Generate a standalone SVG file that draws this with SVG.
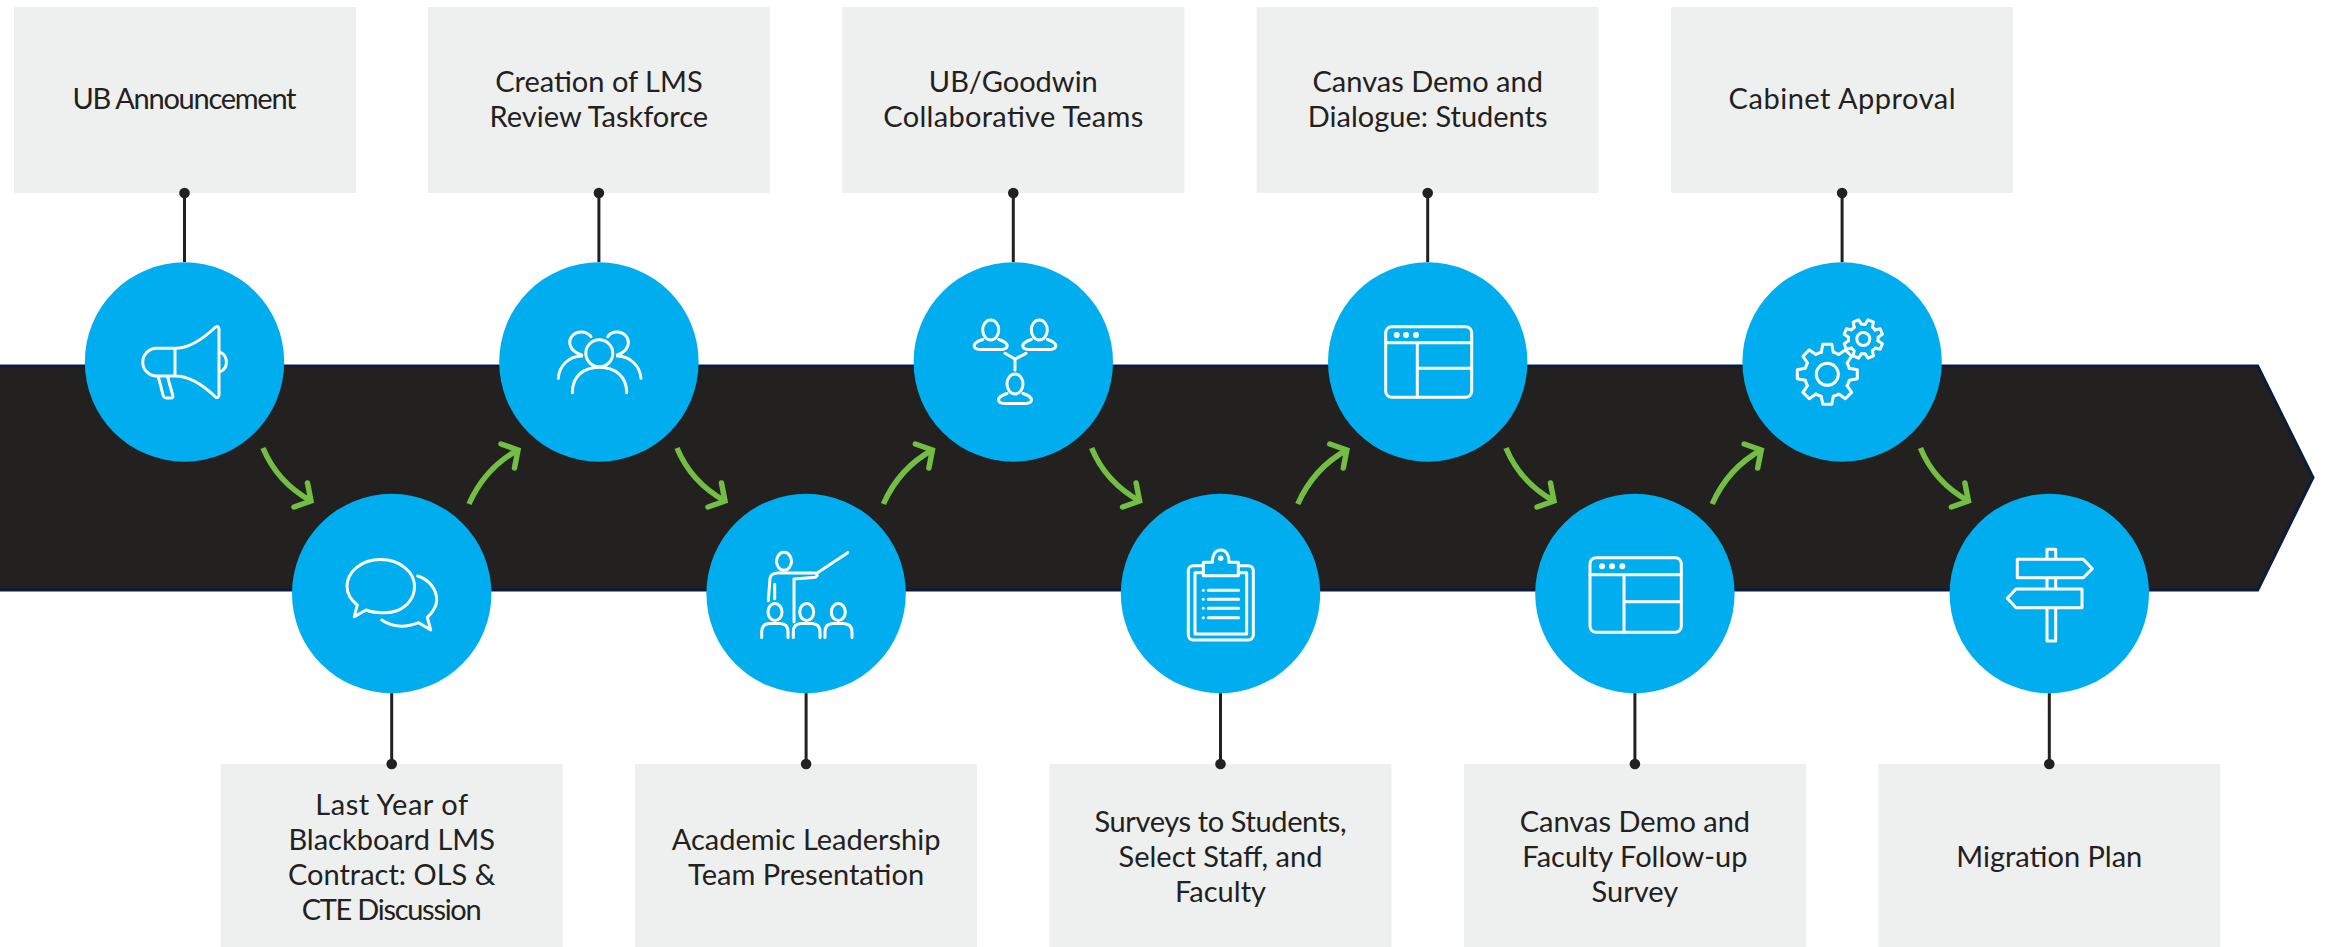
<svg xmlns="http://www.w3.org/2000/svg" xmlns:xlink="http://www.w3.org/1999/xlink" width="2325" height="947" viewBox="0 0 2325 947">
<style>
.box{fill:#eeefef}
.circ{fill:#00adef}
.ic{fill:none;stroke:#fff;stroke-width:3;stroke-linecap:round;stroke-linejoin:round}
.dotw{fill:#fff}
.conn{stroke:#232120;stroke-width:3;fill:none}
.dot{fill:#232120}
.arw{fill:none;stroke:#72bf44;stroke-width:5.5;stroke-linecap:round}
.t{font-family:"Lato","Liberation Sans",sans-serif;font-size:29px;fill:#232120;text-anchor:middle}
</style>
<defs>
<g id="adown"><path class="arw" d="M0 0Q14 34 48 53" style="stroke-linecap:butt"/><path class="arw" d="M44.500 35L48 53L31 59"/></g>
<g id="aup"><path class="arw" d="M0 0Q16 -36 49 -54" style="stroke-linecap:butt"/><path class="arw" d="M32 -60L49 -54L45.500 -36"/></g>
<path id="person" d="M-8 9.5C-13 11 -16.5 13 -16.5 16C-16.5 18.5 -13 19.5 -9 19.5H9C13 19.5 16.5 18.5 16.5 16C16.5 13 13 11 8 9.5"/>
<path id="tb" d="M-6 -22L-4.5 -30H4.5L6 -22A22.8 22.8 0 0 1 11.31 -19.8"/>
<g id="gear"><use xlink:href="#tb"/><use xlink:href="#tb" transform="rotate(45)"/><use xlink:href="#tb" transform="rotate(90)"/><use xlink:href="#tb" transform="rotate(135)"/><use xlink:href="#tb" transform="rotate(180)"/><use xlink:href="#tb" transform="rotate(225)"/><use xlink:href="#tb" transform="rotate(270)"/><use xlink:href="#tb" transform="rotate(315)"/></g>
</defs>

<path id="band" d="M-5 366H2257.7L2313 477.5L2257.7 590H-5Z" fill="#232120" stroke="#0b1c3f" stroke-width="3"/>

<g id="connectors">
<path class="conn" d="M184.5 193V262M391.7 693V764M598.9 193V262M806.1 693V764M1013.3 193V262M1220.5 693V764M1427.7 193V262M1634.9 693V764M1842.1 193V262M2049.3 693V764"/>
<use xlink:href="#adown" x="263" y="448"/><use xlink:href="#aup" x="469" y="504"/>
<use xlink:href="#adown" x="677" y="448"/><use xlink:href="#aup" x="883.4" y="504"/>
<use xlink:href="#adown" x="1091.6" y="448"/><use xlink:href="#aup" x="1297.8" y="504"/>
<use xlink:href="#adown" x="1506" y="448"/><use xlink:href="#aup" x="1712.2" y="504"/>
<use xlink:href="#adown" x="1920.4" y="448"/>
</g>

<g id="n1"><rect class="box" x="14" y="7" width="342" height="186"/><circle class="dot" cx="184.5" cy="193" r="5.3"/><text class="t" x="184.5" y="109" textLength="224">UB Announcement</text><circle class="circ" cx="184.5" cy="362" r="99.7"/>
<path class="ic" d="M175 348.3H155.500A13.900 13.900 0 0 0 155.500 376H175ZM175 348.3C190 348.3 203 339 215 327.5C217 325.5 219 326.5 219 329V395C219 397.5 217 398.5 215 396.5C203 385 190 376 175 376M158.3 376.7L163 395C163.5 397 164.5 398 166.5 398H171C172.5 398 173.3 397 172.8 395.5L167.5 376.7M220 352A11 11 0 0 1 220 372"/></g>

<g id="n2"><rect class="box" x="220.7" y="764" width="342" height="183"/><circle class="dot" cx="391.7" cy="764" r="5.3"/><text class="t"><tspan x="391.7" y="815" textLength="153">Last Year of</tspan><tspan x="391.7" y="850">Blackboard LMS</tspan><tspan x="391.7" y="885">Contract: OLS &amp;</tspan><tspan x="391.7" y="920" textLength="180">CTE Discussion</tspan></text><circle class="circ" cx="391.7" cy="593.5" r="99.7"/>
<path class="ic" d="M366 610C373 613 388 614 396 611C408 607 414.5 597 414.5 586.5C414.5 572 400 559.5 380.7 559.5C361 559.5 347 572 347 586.5C347 594 351 600 357.3 605L354.3 616.7ZM417.7 576C430 580 436.7 590 436.7 600C436.7 607 433 612 427.3 617.3L430.7 630L418.7 622.7C405 628 392 627 381.7 620"/></g>

<g id="n3"><rect class="box" x="427.9" y="7" width="342" height="186"/><circle class="dot" cx="598.9" cy="193" r="5.3"/><text class="t"><tspan x="598.9" y="92">Creation of LMS</tspan><tspan x="598.9" y="127">Review Taskforce</tspan></text><circle class="circ" cx="598.9" cy="362" r="99.7"/>
<g class="ic"><circle cx="599.3" cy="353.3" r="13.5"/><path d="M572.3 392.7C572.3 376 584 367.3 599.3 367.3C614.5 367.3 626.7 376 626.7 392.7M591 336.7C587 331.5 578 330 573 335C567 341 569 351 581.7 355M558.3 378.3C559 366 569 356 581.7 356M607.7 336.7C611 331.5 620 330 625 335C631 341 629 351 617.3 355M641 378.3C640 366 630 356 617.3 356"/></g></g>

<g id="n4"><rect class="box" x="635.1" y="764" width="342" height="183"/><circle class="dot" cx="806.1" cy="764" r="5.3"/><text class="t"><tspan x="806.1" y="850">Academic Leadership</tspan><tspan x="806.1" y="885">Team Presentation</tspan></text><circle class="circ" cx="806.1" cy="593.5" r="99.7"/>
<g class="ic"><ellipse cx="784" cy="561.3" rx="7.5" ry="9"/><ellipse cx="775" cy="612" rx="7" ry="8.5"/><ellipse cx="806.7" cy="612" rx="7" ry="8.5"/><ellipse cx="838.3" cy="612" rx="7" ry="8.5"/><path d="M768.3 600.7L770 578.3Q771 573 778 573H814Q818 573 817 576Q816 577.5 813 577.5L794 579V621.7M774.7 584.3V598.7M816.7 573.3L847.7 552.7M761.7 637.5V632Q761.7 623.5 770 623.5H780Q788 623.5 788 632V637.5M793.3 637.5V632Q793.3 623.5 801.5 623.5H811.5Q820 623.5 820 632V637.5M825 637.5V632Q825 623.5 833 623.5H843Q852 623.5 852 632V637.5"/></g></g>

<g id="n5"><rect class="box" x="842.3" y="7" width="342" height="186"/><circle class="dot" cx="1013.3" cy="193" r="5.3"/><text class="t"><tspan x="1013.3" y="92">UB/Goodwin</tspan><tspan x="1013.3" y="127" textLength="260">Collaborative Teams</tspan></text><circle class="circ" cx="1013.3" cy="362" r="99.7"/>
<g class="ic"><ellipse cx="990.7" cy="330" rx="8" ry="10"/><ellipse cx="1039.3" cy="330" rx="8" ry="10"/><ellipse cx="1015" cy="384" rx="8" ry="10"/><use xlink:href="#person" x="990.7" y="330"/><use xlink:href="#person" x="1039.3" y="330"/><use xlink:href="#person" x="1015" y="384"/><path d="M1005 353.3L1015 359L1026 353.3M1015 359V370"/></g></g>

<g id="n6"><rect class="box" x="1049.5" y="764" width="342" height="183"/><circle class="dot" cx="1220.5" cy="764" r="5.3"/><text class="t"><tspan x="1220.5" y="832" textLength="252">Surveys to Students,</tspan><tspan x="1220.5" y="867">Select Staff, and</tspan><tspan x="1220.5" y="902">Faculty</tspan></text><circle class="circ" cx="1220.5" cy="593.5" r="99.7"/>
<g class="ic"><path d="M1203.3 565.7H1193A5 5 0 0 0 1188.3 570.5V635A5 5 0 0 0 1193 640H1248.5A5 5 0 0 0 1253.3 635V570.5A5 5 0 0 0 1248.5 565.7H1238.3M1203.3 572.7H1195V634H1246.7V572.7H1238.3M1203.3 562.3H1212.5C1212 556 1215 550 1220.7 550C1226.5 550 1229.5 556 1229 562.3H1238.3V575.7H1203.3ZM1208.3 590.3H1238.7M1208.3 599.3H1238.7M1208.3 608.3H1238.7M1208.3 617.7H1238.7"/></g>
<g class="dotw"><circle cx="1220.7" cy="558.3" r="2.7"/><circle cx="1203.3" cy="590.3" r="1.5"/><circle cx="1203.3" cy="599.3" r="1.5"/><circle cx="1203.3" cy="608.3" r="1.5"/><circle cx="1203.3" cy="617.7" r="1.5"/></g></g>

<g id="n7"><rect class="box" x="1256.7" y="7" width="342" height="186"/><circle class="dot" cx="1427.7" cy="193" r="5.3"/><text class="t"><tspan x="1427.7" y="92">Canvas Demo and</tspan><tspan x="1427.7" y="127">Dialogue: Students</tspan></text><circle class="circ" cx="1427.7" cy="362" r="99.7"/>
<rect class="ic" x="1385.7" y="326.7" width="86" height="70.6" rx="6"/><path class="ic" d="M1385.7 342.7H1471.7M1417.3 342.7V397.3M1417.3 368.3H1471.7"/>
<g class="dotw"><circle cx="1396.7" cy="335" r="3"/><circle cx="1406" cy="335" r="3"/><circle cx="1416" cy="335" r="3"/></g></g>

<g id="n8"><rect class="box" x="1463.9" y="764" width="342" height="183"/><circle class="dot" cx="1634.9" cy="764" r="5.3"/><text class="t"><tspan x="1634.9" y="832">Canvas Demo and</tspan><tspan x="1634.9" y="867">Faculty Follow-up</tspan><tspan x="1634.9" y="902">Survey</tspan></text><circle class="circ" cx="1634.9" cy="593.5" r="99.7"/>
<rect class="ic" x="1590" y="557.7" width="91.3" height="74.6" rx="6"/><path class="ic" d="M1590 574.7H1681.3M1624 574.7V632.3M1624 601.7H1681.3"/>
<g class="dotw"><circle cx="1602" cy="566.3" r="3"/><circle cx="1612" cy="566.3" r="3"/><circle cx="1622.3" cy="566.3" r="3"/></g></g>

<g id="n9"><rect class="box" x="1671.1" y="7" width="342" height="186"/><circle class="dot" cx="1842.1" cy="193" r="5.3"/><text class="t" x="1842.1" y="109" textLength="227">Cabinet Approval</text><circle class="circ" cx="1842.1" cy="362" r="99.7"/>
<g class="ic"><use xlink:href="#gear" transform="translate(1827.3 374.3)"/><circle cx="1827.3" cy="374.3" r="11"/><use xlink:href="#gear" transform="translate(1863.3 339) rotate(22.5) scale(.65)" style="stroke-width:4.6"/><circle cx="1863.3" cy="339" r="6.5"/></g></g>

<g id="n10"><rect class="box" x="1878.3" y="764" width="342" height="183"/><circle class="dot" cx="2049.3" cy="764" r="5.3"/><text class="t" x="2049.3" y="867">Migration Plan</text><circle class="circ" cx="2049.3" cy="593.5" r="99.7"/>
<path class="ic" d="M2047 559.3V549.3H2055.7V559.3M2047 577.7V589M2055.7 577.7V589M2047 607.7V641H2055.7V607.7M2017.3 559.3H2083.3L2092.3 568.7L2083.3 577.7H2017.3ZM2082 589H2016L2007.3 598.3L2016 607.7H2082Z"/></g>
</svg>
